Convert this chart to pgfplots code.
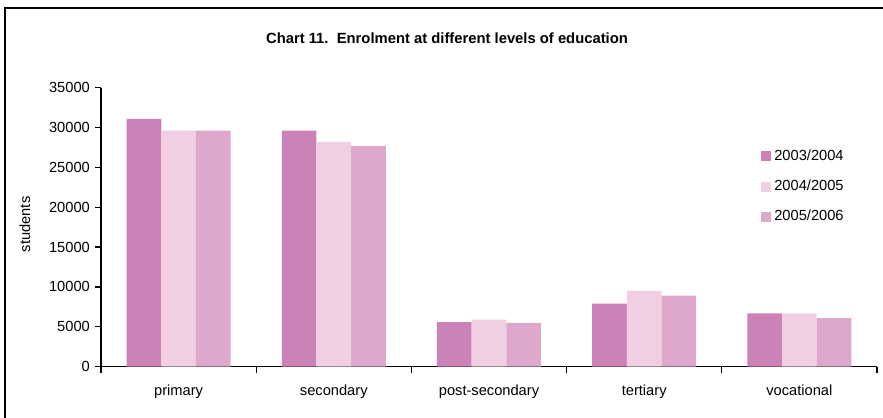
\documentclass[border=0pt]{standalone}
\usepackage{fontspec}
\setmainfont{Liberation Sans}
\setsansfont{Liberation Sans}
\usepackage{pgfplots}
\pgfplotsset{compat=1.18}
\definecolor{cA}{RGB}{203,130,182}
\definecolor{cB}{RGB}{240,207,227}
\definecolor{cC}{RGB}{222,168,205}
\begin{document}
\fontsize{11}{13}\selectfont
\begin{tikzpicture}[x=0.75pt,y=0.75pt,font=\fontsize{11}{13}\selectfont]
\useasboundingbox (0,0) rectangle (883,418);
\draw[line width=1.3pt] (5,-20) -- (5,410) -- (900,410);
\node[font=\fontsize{11.1}{13}\selectfont\bfseries] at (447,380) {Chart 11.\ \ Enrolment at different levels of education};
\begin{axis}[
  at={(75.75pt,38.5pt)}, anchor=south west,
  scale only axis, width=582pt, height=209.25pt,
  ybar=0pt, bar width=26pt,
  axis x line*=bottom, axis y line*=left,
  axis line style={-, line width=1pt, black},
  xmin=-0.5, xmax=4.5, ymin=0, ymax=35000,
  ytick={0,5000,...,35000},
  xtick={0,...,4},
  xticklabels={primary,secondary,post-secondary,tertiary,vocational},
  minor xtick={-0.5,0.5,...,4.5},
  tick align=outside, major tick length=4.5pt, minor tick length=4.5pt,
  major x tick style={draw=none},
  minor x tick style={black, line width=0.9pt},
  major y tick style={black, line width=0.9pt},
  scaled y ticks=false,
  /pgf/number format/assume math mode=true,
  yticklabel style={/pgf/number format/1000 sep={}},
  xticklabel style={yshift=-5pt},
  ylabel={students},
  every axis y label/.style={at={(axis description cs:-0.098,0.51)}, rotate=90, anchor=center},
  legend style={at={(0.845,0.792)}, anchor=north west, draw=none, fill=none,
    row sep=11pt, column sep=1.5pt, nodes={inner sep=1pt, anchor=west}},
  legend image code/.code={\fill[#1] (0pt,-3.75pt) rectangle (7.5pt,3.75pt);},
]
\addplot[fill=cA, draw=none] coordinates {(0,31100) (1,29600) (2,5600) (3,7900) (4,6700)};
\addplot[fill=cB, draw=none] coordinates {(0,29600) (1,28200) (2,5900) (3,9500) (4,6700)};
\addplot[fill=cC, draw=none] coordinates {(0,29600) (1,27700) (2,5500) (3,8900) (4,6100)};
\legend{2003/2004,2004/2005,2005/2006}
\end{axis}
\end{tikzpicture}
\end{document}
